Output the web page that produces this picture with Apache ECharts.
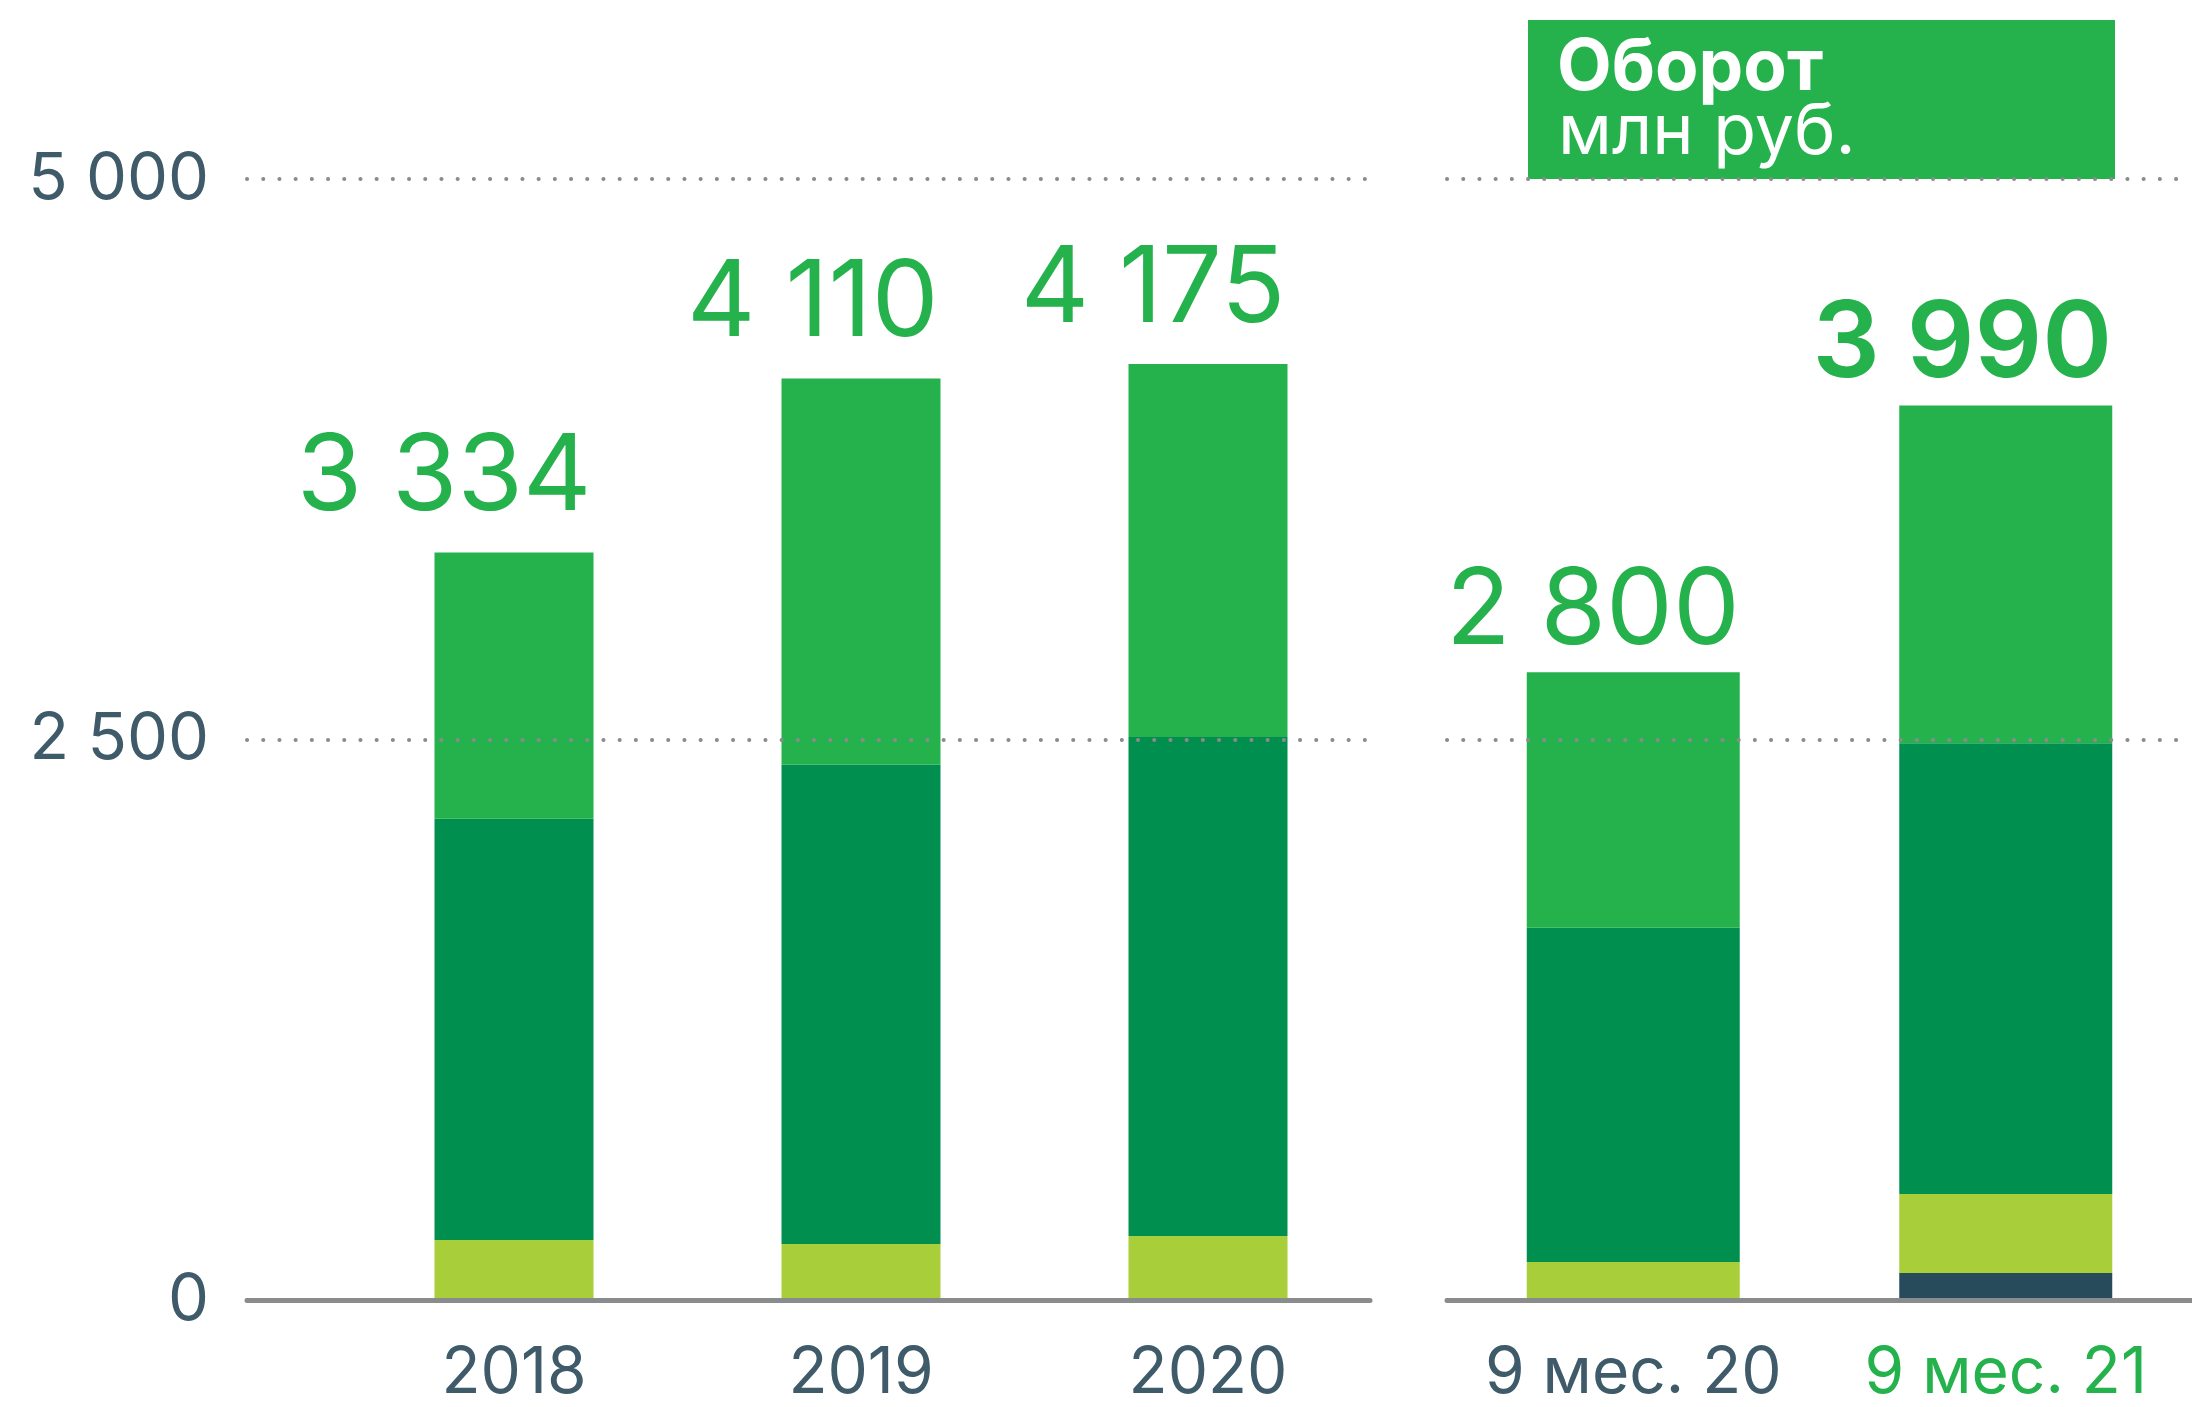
<!DOCTYPE html>
<html>
<head>
<meta charset="utf-8">
<script src="https://cdn.jsdelivr.net/npm/echarts@6/dist/echarts.min.js"></script>
<style>
  html, body { margin: 0; padding: 0; background: #fff; }
  #chart { width: 2192px; height: 1407px; }
</style>
</head>
<body>
<div id="chart"></div>
<script>
  // годовые данные
  var yearCats = ['2018', '2019', '2020'];
  var yearTotals = [3334, 4110, 4175];
  var yearLime = [268, 250, 285];
  var yearDark = [1879, 2138, 2226];
  var yearBright = [1187, 1722, 1664];

  // 9 месяцев
  var periodCats = ['9 мес. 20', '9 мес. 21'];
  var periodTotals = [2800, 3990];
  var periodNavy = [0, 120];
  var periodLime = [170, 353];
  var periodDark = [1490, 2010];
  var periodBright = [1140, 1507];

  var yTicks = [0, 2500, 5000];

  var GREEN = '#25B24C', DARK = '#008F4F', LIME = '#A8CE3A', NAVY = '#284B5B';
  var SLATE = '#3F5B6A', GREY = '#8A8B8D';
  var FONT = 'Inter, "Noto Sans", sans-serif';

  function fmt(v) { return String(v).replace(/\B(?=(\d{3})+(?!\d))/g, ' '); }

  var chart = echarts.init(document.getElementById('chart'));

  var gridTop = 179, gridH = 1121;
  var dots = { color: GREY, width: 4, type: [0.1, 16.1], cap: 'round' };
  var baseLine = { show: true, lineStyle: { color: GREY, width: 5, cap: 'round' } };

  var option = {
    animation: false,
    grid: [
      { left: 247, width: 1123, top: gridTop, height: gridH },   // рамка слева
      { left: 340.5, width: 1041, top: gridTop, height: gridH }, // столбцы слева
      { left: 1447, width: 745, top: gridTop, height: gridH }    // 9 мес.
    ],
    xAxis: [
      { gridIndex: 0, type: 'category', data: yearCats, z: 10,
        axisLine: baseLine, axisTick: { show: false }, axisLabel: { show: false } },
      { gridIndex: 1, type: 'category', data: yearCats,
        axisLine: { show: false }, axisTick: { show: false },
        axisLabel: { color: SLATE, fontSize: 64, fontFamily: FONT, margin: 42, interval: 0 } },
      { gridIndex: 2, type: 'category', data: periodCats, z: 10,
        axisLine: baseLine, axisTick: { show: false },
        axisLabel: { fontSize: 64, fontFamily: FONT, margin: 42, interval: 0, showMaxLabel: true, hideOverlap: false,
          formatter: function (v, i) { return i === periodCats.length - 1 ? '{g|' + v + '}' : '{s|' + v + '}'; },
          rich: { g: { color: GREEN, fontSize: 64, fontFamily: FONT }, s: { color: SLATE, fontSize: 64, fontFamily: FONT } } } }
    ],
    yAxis: [
      { gridIndex: 0, type: 'value', min: yTicks[0], max: yTicks[2], interval: yTicks[1], z: 10,
        axisLine: { show: false }, axisTick: { show: false },
        axisLabel: { color: SLATE, fontSize: 65, fontFamily: FONT, margin: 38, formatter: fmt },
        splitLine: { show: true, lineStyle: dots } },
      { gridIndex: 1, type: 'value', min: yTicks[0], max: yTicks[2], interval: yTicks[1], show: false },
      { gridIndex: 2, type: 'value', min: yTicks[0], max: yTicks[2], interval: yTicks[1], z: 10,
        axisLine: { show: false }, axisTick: { show: false }, axisLabel: { show: false },
        splitLine: { show: true, lineStyle: dots } }
    ],
    graphic: [
      { type: 'rect', z: 1, shape: { x: 1528, y: 20, width: 587, height: 159 }, style: { fill: GREEN } },
      { type: 'text', z: 2, style: { text: 'Оборот', x: 1557, y: 69, fill: '#fff',
          font: 'bold 71px ' + FONT, textVerticalAlign: 'middle' } },
      { type: 'text', z: 2, style: { text: 'млн руб.', x: 1558, y: 133, fill: '#fff',
          font: '70px ' + FONT, textVerticalAlign: 'middle' } }
    ],
    series: [
      { type: 'bar', xAxisIndex: 1, yAxisIndex: 1, stack: 'y', barWidth: 159, data: yearLime, itemStyle: { color: LIME } },
      { type: 'bar', xAxisIndex: 1, yAxisIndex: 1, stack: 'y', barWidth: 159, data: yearDark, itemStyle: { color: DARK } },
      { type: 'bar', xAxisIndex: 1, yAxisIndex: 1, stack: 'y', barWidth: 159, data: yearBright, itemStyle: { color: GREEN },
        label: { show: true, position: ['100%', 0], align: 'right', verticalAlign: 'bottom', offset: [-2, -21],
          color: GREEN, fontSize: 106, fontFamily: FONT,
          formatter: function (p) { return fmt(yearTotals[p.dataIndex]); } } },
      { type: 'bar', xAxisIndex: 2, yAxisIndex: 2, stack: 'p', barWidth: 213, data: periodNavy, itemStyle: { color: NAVY } },
      { type: 'bar', xAxisIndex: 2, yAxisIndex: 2, stack: 'p', barWidth: 213, data: periodLime, itemStyle: { color: LIME } },
      { type: 'bar', xAxisIndex: 2, yAxisIndex: 2, stack: 'p', barWidth: 213, data: periodDark, itemStyle: { color: DARK } },
      { type: 'bar', xAxisIndex: 2, yAxisIndex: 2, stack: 'p', barWidth: 213, data: periodBright, itemStyle: { color: GREEN },
        label: { show: true, position: ['100%', 0], align: 'right', verticalAlign: 'bottom', offset: [0, -7],
          fontSize: 106, fontFamily: FONT,
          formatter: function (p) {
            var t = fmt(periodTotals[p.dataIndex]);
            return p.dataIndex === periodTotals.length - 1 ? '{b|' + t + '}' : '{n|' + t + '}';
          },
          rich: { n: { color: GREEN, fontSize: 106, fontFamily: FONT },
                  b: { color: GREEN, fontSize: 106, fontFamily: FONT, fontWeight: 600 } } } }
    ]
  };

  chart.setOption(option);
</script>
</body>
</html>
